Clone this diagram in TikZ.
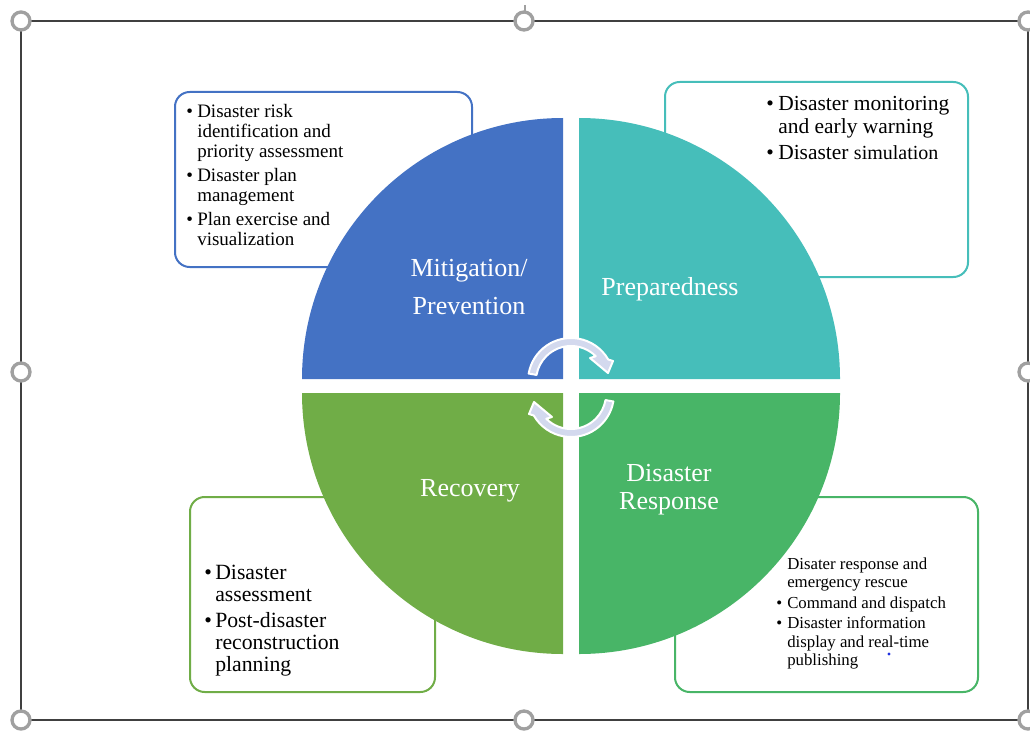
\documentclass[tikz,border=0pt]{standalone}
\usepackage{fontspec}
\setmainfont{Liberation Serif}
\definecolor{qblue}{HTML}{4472C4}
\definecolor{qteal}{HTML}{46BEBA}
\definecolor{qgreen}{HTML}{70AD47}
\definecolor{qresp}{HTML}{48B567}
\definecolor{arrowfill}{HTML}{D3D9EE}
\definecolor{frameline}{HTML}{404040}
\definecolor{handlegray}{HTML}{A0A0A0}
\definecolor{dotblue}{HTML}{2030E0}
\begin{document}
\begin{tikzpicture}[x=0.75pt,y=-0.75pt,
  infobox/.style={line width=1.5pt, rounded corners=11pt, fill=white},
  qlabel/.style={text=white, inner sep=0pt, align=center},
  cyclearrow/.style={fill=arrowfill, draw=white, line width=1.5pt, line join=round},
  handlec/.style={circle, draw=handlegray, fill=white, line width=2.5pt, minimum size=13.5pt, inner sep=0pt},
  boxtext/.style={anchor=north west, inner sep=0pt}
]
\useasboundingbox (0,0) rectangle (1030,731);

% selection frame and handles
\draw[frameline, line width=1.5pt] (21,21) rectangle (1028,720);
\draw[handlegray, line width=1pt] (525,5) -- (525,12);
\node[handlec] (h1) at (21,21) {};
\node[handlec] (h2) at (524,21) {};
\node[handlec] (h3) at (1028,21) {};
\node[handlec] (h4) at (21,372) {};
\node[handlec] (h5) at (1028,372) {};
\node[handlec] (h6) at (21,720) {};
\node[handlec] (h7) at (524,720) {};
\node[handlec] (h8) at (1028,720) {};

% info boxes
\draw[infobox, draw=qblue] (175,92) rectangle (472,267);
\draw[infobox, draw=qteal] (665,82) rectangle (968,277);
\draw[infobox, draw=qgreen] (190,497) rectangle (435,692);
\draw[infobox, draw=qresp] (675,497) rectangle (978,692);

% quadrants
\begin{scope}[shift={(563,379)}]
  \fill[qblue] (0,0) -- (180:261) arc[start angle=180, end angle=270, radius=261] -- cycle;
\end{scope}
\begin{scope}[shift={(579,379)}]
  \fill[qteal] (0,0) -- (270:261) arc[start angle=270, end angle=360, radius=261] -- cycle;
\end{scope}
\begin{scope}[shift={(563,393)}]
  \fill[qgreen] (0,0) -- (90:261) arc[start angle=90, end angle=180, radius=261] -- cycle;
\end{scope}
\begin{scope}[shift={(579,393)}]
  \fill[qresp] (0,0) -- (0:261) arc[start angle=0, end angle=90, radius=261] -- cycle;
\end{scope}

% cycle arrows
\begin{scope}[shift={(571,381)}]
  \filldraw[cyclearrow] (190:43) arc[start angle=190, end angle=330, radius=43]
    -- (42,-20) -- (37,-8) -- (19,-23) -- (315:35)
    arc[start angle=315, end angle=190, radius=35] -- cycle;
\end{scope}
\begin{scope}[shift={(571,394)}, rotate=180]
  \filldraw[cyclearrow] (190:43) arc[start angle=190, end angle=330, radius=43]
    -- (42,-20) -- (37,-8) -- (19,-23) -- (315:35)
    arc[start angle=315, end angle=190, radius=35] -- cycle;
\end{scope}

% quadrant labels
\node[qlabel, font=\fontsize{19.5}{21}\selectfont] (mit) at (469,287.5) {Mitigation/\\[7.5pt]Prevention};
\node[qlabel, font=\fontsize{19.5}{21}\selectfont, anchor=base] (prep) at (670,295) {Preparedness};
\node[qlabel, font=\fontsize{19.5}{21}\selectfont, anchor=base] (rec) at (470,496) {Recovery};
\node[qlabel, font=\fontsize{19.5}{21}\selectfont] (resp) at (669,490) {Disaster\\Response};

% box texts
\node[boxtext, font=\fontsize{14.25}{15}\selectfont] (tltext) at (186,103) {%
\begin{tabular}{@{}p{8.25pt}@{}l@{}}
\textbullet & Disaster risk\\
 & identification and\\
 & priority assessment\\[3pt]
\textbullet & Disaster plan\\
 & management\\[3pt]
\textbullet & Plan exercise and\\
 & visualization
\end{tabular}};

\node[boxtext, font=\fontsize{16.1}{17.25}\selectfont] (trtext) at (766,94) {%
\begin{tabular}{@{}p{9pt}@{}l@{}}
\textbullet & Disaster monitoring\\
 & and early warning\\[2.5pt]
\textbullet & Disaster {\fontsize{15}{17.25}\selectfont simulation}
\end{tabular}};

\node[boxtext, font=\fontsize{16.3}{16.5}\selectfont] (bltext) at (204,564) {%
\begin{tabular}{@{}p{8.25pt}@{}l@{}}
\textbullet & Disaster\\
 & assessment\\[3pt]
\textbullet & Post-disaster\\
 & reconstruction\\
 & planning
\end{tabular}};

\node[boxtext, font=\fontsize{12.6}{13.9}\selectfont] (brtext) at (776,556) {%
\begin{tabular}{@{}p{8.25pt}@{}l@{}}
 & Disater response and\\
 & emergency rescue\\[1.5pt]
\textbullet & Command and dispatch\\[1.5pt]
\textbullet & Disaster information\\
 & display and real-time\\
 & publishing
\end{tabular}};

\fill[dotblue] (889,654) circle[radius=1.6];
\end{tikzpicture}
\end{document}
